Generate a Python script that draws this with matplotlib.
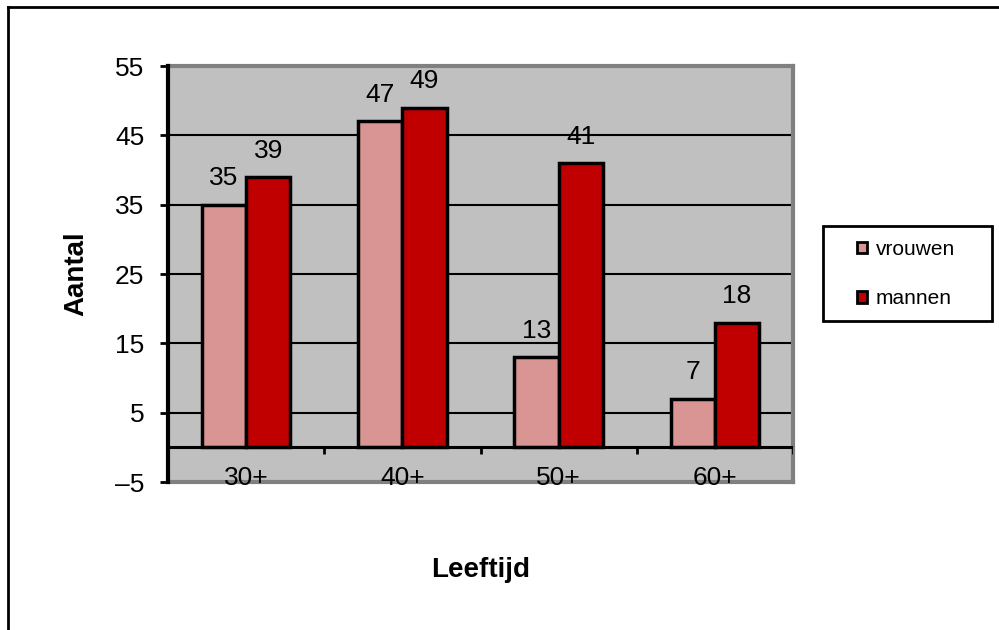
import numpy as np
import matplotlib
matplotlib.use("Agg")
import matplotlib.pyplot as plt
from matplotlib.patches import Patch, Rectangle
from matplotlib.lines import Line2D

plt.rcParams['font.family'] = ['Liberation Sans', 'DejaVu Sans']

# leeftijdsgroepen en aantallen per geslacht
groepen = ['30+', '40+', '50+', '60+']
vrouwen = [35, 47, 13, 7]
mannen = [39, 49, 41, 18]
yticks = [-5, 5, 15, 25, 35, 45, 55]

kleur_v = '#D99594'
kleur_m = '#C00000'

fig = plt.figure(figsize=(9.99, 6.3), dpi=100)
ax = fig.add_axes([168/999, 1 - 482/630, 625/999, 416/630])
ax.set_facecolor('#C0C0C0')

x = np.arange(len(groepen))
w = 0.283
bv = ax.bar(x - w/2, vrouwen, w, color=kleur_v, edgecolor='black', linewidth=2.5, zorder=3)
bm = ax.bar(x + w/2, mannen, w, color=kleur_m, edgecolor='black', linewidth=2.5, zorder=3)

for bars, vals in ((bv, vrouwen), (bm, mannen)):
    for b, v in zip(bars, vals):
        ax.annotate(str(v), (b.get_x() + b.get_width()/2, v), xytext=(0, 19),
                    textcoords='offset points', ha='center', va='center',
                    fontsize=19, zorder=5)

ax.set_xlim(-0.5, len(groepen) - 0.5)
ax.set_ylim(-5, 55)
ax.set_yticks(yticks)
ax.set_yticklabels([str(t).replace('-', '\u2013') for t in yticks])
ax.tick_params(axis='y', length=6, width=2, pad=11, labelsize=19, direction='out')
ax.set_xticks([])

# rasterlijnen en nullijn
for t in yticks[1:-1]:
    ax.axhline(t, color='black', lw=1.5, zorder=1)
ax.axhline(0, color='black', lw=2.2, zorder=4)
ax.vlines(np.arange(len(groepen)) + 0.5, -0.9, 0, color='black', lw=2, zorder=4)

for xi, g in zip(x, groepen):
    ax.text(xi, -4.4, g, ha='center', va='center', fontsize=19, zorder=6, clip_on=False)

for kant in ('top', 'right', 'bottom'):
    ax.spines[kant].set_color('#808080')
    ax.spines[kant].set_linewidth(3)
ax.spines['left'].set_color('black')
ax.spines['left'].set_linewidth(3)
ax.spines['left'].set_zorder(5)

ax.set_ylabel('Aantal', fontsize=20, fontweight='bold')
ax.yaxis.set_label_coords(-0.147, 0.5)
ax.yaxis.label.set_va('center')
ax.set_xlabel('Leeftijd', fontsize=20, fontweight='bold')
ax.xaxis.set_label_coords(0.5, -0.212)
ax.xaxis.label.set_va('center')

# legenda met los kader
fig.add_artist(Rectangle((823/999, 1 - 321/630), 169/999, 95/630,
                         transform=fig.transFigure, facecolor='white',
                         edgecolor='black', linewidth=2, zorder=2))
handles = [Patch(facecolor=kleur_v, edgecolor='black', linewidth=2),
           Patch(facecolor=kleur_m, edgecolor='black', linewidth=2)]
leg = fig.legend(handles, ['vrouwen', 'mannen'], loc='center left',
                 bbox_to_anchor=(857/999, 1 - 274/630), fontsize=15,
                 frameon=False, handlelength=0.5, handleheight=0.5,
                 handletextpad=0.4, labelspacing=1.45, borderpad=0,
                 borderaxespad=0)
leg.set_zorder(3)

# kader rond de grafiek
fig.add_artist(Line2D([8/999, 1], [1 - 7/630, 1 - 7/630], color='black', lw=2))
fig.add_artist(Line2D([8/999, 8/999], [0, 1 - 7/630], color='black', lw=2))

fig.savefig('out.png', dpi=100)
